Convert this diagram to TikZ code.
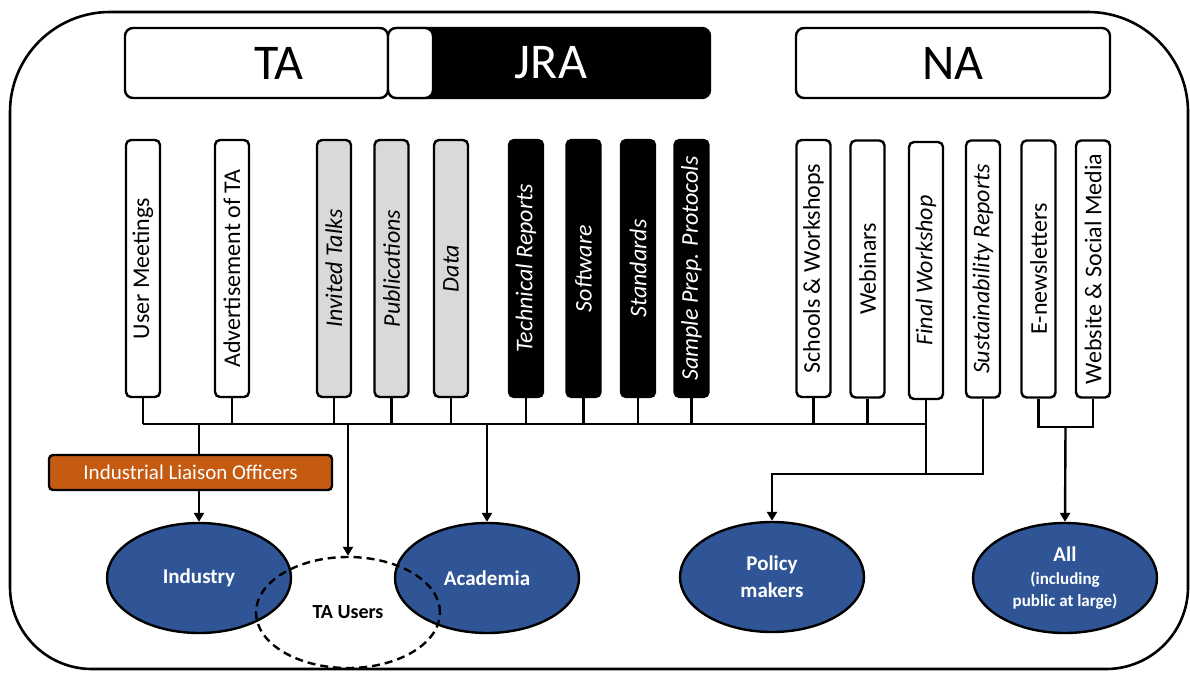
\documentclass[tikz,border=0pt]{standalone}
\usepackage{fontspec}
\setmainfont{Carlito}
\usepackage{graphicx}
\usetikzlibrary{arrows.meta,shapes.geometric}
\definecolor{dblue}{HTML}{2F5597}
\definecolor{orng}{HTML}{C55A11}
\definecolor{lgray}{HTML}{D9D9D9}
\tikzset{
 vbox/.style={draw, line width=2.4pt, rounded corners=5pt, minimum width=34pt, minimum height=257pt, inner sep=0pt, font=\fontsize{24}{28}\selectfont},
 wbox/.style={vbox, fill=white},
 gbox/.style={vbox, fill=lgray, font=\fontsize{24}{28}\selectfont\itshape},
 blkbox/.style={vbox, fill=black, text=white, font=\fontsize{24}{28}\selectfont\itshape},
 wibox/.style={vbox, fill=white, font=\fontsize{24}{28}\selectfont\itshape},
 hbox/.style={draw, line width=2.4pt, rounded corners=8pt, inner sep=0pt, font=\fontsize{50}{56}\selectfont},
 conn/.style={line width=2.4pt},
 arr/.style={conn, -{Triangle[length=9pt,width=10pt]}},
 aud/.style={ellipse, draw, line width=2.4pt, fill=dblue, text=white, minimum width=184pt, minimum height=110pt, font=\fontsize{21}{27}\selectfont\bfseries, align=center, inner sep=0pt},
}
\begin{document}
\begin{tikzpicture}[x=1pt,y=-1pt]
\useasboundingbox (0,0) rectangle (1190,672);
% outer frame
\draw[line width=2.6pt, line join=round] (600,12) [rounded corners=100pt] -- (1188,12) -- (1188,380) [rounded corners=82pt] -- (1188,669) -- (10,669) -- (10,380) [rounded corners=100pt] -- (10,12) -- cycle;
% top headers
\node[hbox, fill=black, minimum width=321pt, minimum height=70pt] (jra) at (549.5,63) {};
\node[hbox, fill=white, minimum width=263pt, minimum height=70pt] (ta) at (256.5,63) {};
\node[hbox, fill=white, minimum width=45pt, minimum height=70pt] (tab) at (410.5,63) {};
\node[font=\fontsize{50}{56}\selectfont] (talbl) at (279,63) {TA};
\node[font=\fontsize{50}{56}\selectfont, text=white] (jralbl) at (551,63) {JRA};
\node[hbox, fill=white, minimum width=314pt, minimum height=70pt] (na) at (953,63) {NA};
% vertical boxes
\node[wbox] (um) at (143,268.5) {\rotatebox{90}{User Meetings}};
\node[wbox] (ad) at (232,268.5) {\rotatebox{90}{Advertisement of TA}};
\node[gbox] (it) at (334,268.5) {\rotatebox{90}{Invited Talks}};
\node[gbox] (pu) at (391.5,268.5) {\rotatebox{90}{Publications}};
\node[gbox] (da) at (451,268.5) {\rotatebox{90}{Data}};
\node[blkbox] (tr) at (526,268.5) {\rotatebox{90}{Technical Reports}};
\node[blkbox] (sw) at (583.5,268.5) {\rotatebox{90}{Software}};
\node[blkbox] (st) at (638,268.5) {\rotatebox{90}{Standards}};
\node[blkbox] (sp) at (691.5,268.5) {\rotatebox{90}{Sample Prep. Protocols}};
\node[wbox] (sc) at (813.5,268.5) {\rotatebox{90}{Schools \& Workshops}};
\node[wbox] (we) at (867.5,269) {\rotatebox{90}{Webinars}};
\node[wibox] (fw) at (926,270.5) {\rotatebox{90}{Final Workshop}};
\node[wibox] (sr) at (983,269) {\rotatebox{90}{Sustainability Reports}};
\node[wbox] (en) at (1038.5,269) {\rotatebox{90}{E-newsletters}};
\node[wbox] (ws) at (1093,269) {\rotatebox{90}{Website \& Social Media}};
% audiences
\node[aud] (ind) at (199,578) {Industry};
\node[aud] (aca) at (487,578) {Academia};
\node[aud] (pm) at (772,577) {Policy\\makers};
\node[aud] (all) at (1065,578) {All\\[-4pt]{\fontsize{17}{20}\selectfont(including}\\[-5pt]{\fontsize{17}{20}\selectfont public at large)}};
\node[ellipse, draw, line width=2.4pt, dash pattern=on 8pt off 5pt, minimum width=184pt, minimum height=111pt, inner sep=0pt, font=\fontsize{20}{24}\selectfont\bfseries] (tau) at (348,612.5) {TA Users};
% ILO
\node[draw, line width=2.4pt, fill=orng, text=white, rounded corners=4pt, minimum width=283pt, minimum height=35pt, inner sep=0pt, font=\fontsize{21}{25}\selectfont] (ilo) at (190.5,472.5) {Industrial Liaison Officers};
% bus
\coordinate (busy) at (0,424);
\coordinate (pjoin) at (926,474);
\coordinate (ajoin) at (1065.5,427);
\foreach \n in {um,ad,it,pu,da,tr,sw,st,sp,sc,we}{
  \draw[conn] (\n.south) -- (\n.south |- busy);
}
\draw[conn] (um.south |- busy) -- (fw.south |- busy);
\draw[conn] (fw.south) -- (pjoin);
\draw[arr] (sr.south) |- (pjoin) -| (pm.north);
\draw[conn] (en.south) |- (ajoin) -| (ws.south);
\draw[arr] (ajoin) -- (all.north);
\draw[conn] (ind.north |- busy) -- (ind.north |- ilo.north);
\draw[arr] (ind.north |- ilo.south) -- (ind.north);
\draw[arr] (tau.north |- busy) -- (tau.north);
\draw[arr] (aca.north |- busy) -- (aca.north);
\end{tikzpicture}
\end{document}
